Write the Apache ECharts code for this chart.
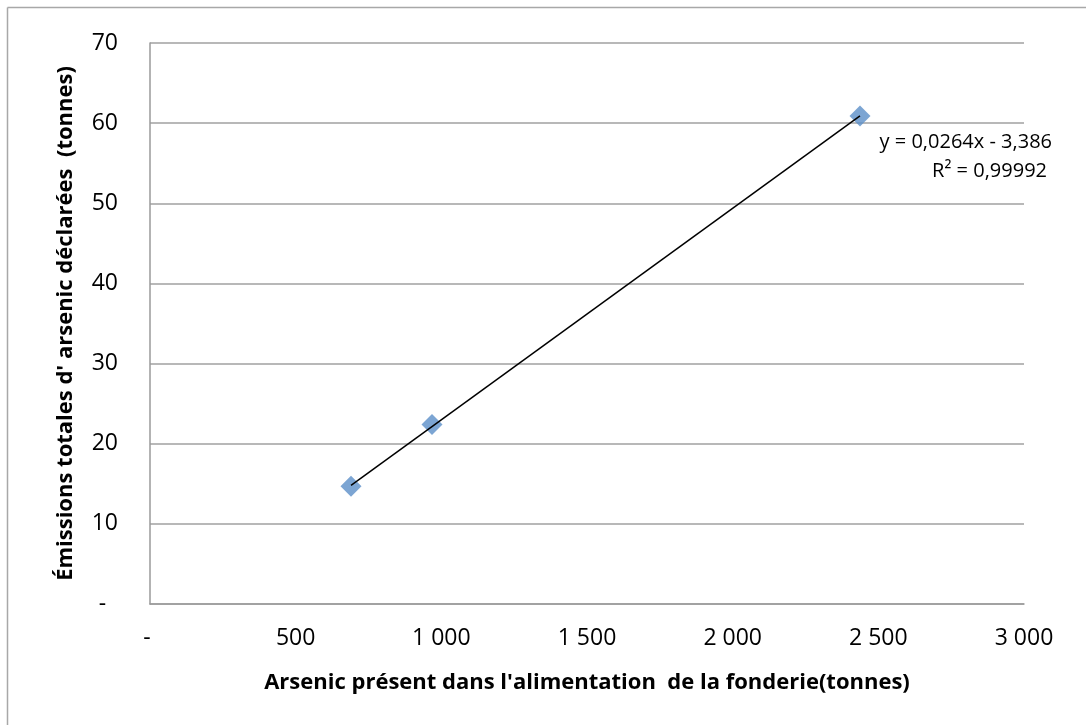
<!DOCTYPE html>
<html>
<head>
<meta charset="utf-8">
<script src="https://cdn.jsdelivr.net/npm/echarts@6/dist/echarts.min.js"></script>
<style>
  html, body { margin: 0; padding: 0; background: #fff; }
  #chart { width: 1086px; height: 725px; }
</style>
</head>
<body>
<div id="chart"></div>
<script>
// points
const feedTonnes = [690, 968, 2437];
const emissionsTonnes = [14.7, 22.4, 60.9];
// trend line ends
const trendX = [690, 2437];
const trendY = [14.8, 60.9];
const equationText = ['y = 0,0264x - 3,386', 'R² = 0,99992'];

const font = '"Open Sans", "Noto Sans", sans-serif';

function fmt(v) {
  return String(v).replace(/\B(?=(\d{3})+(?!\d))/g, ' ');
}

const chart = echarts.init(document.getElementById('chart'));
chart.setOption({
  backgroundColor: '#fff',
  animation: false,
  grid: { left: 150, right: 62, top: 43, bottom: 121 },
  xAxis: {
    type: 'value',
    min: 0, max: 3000, interval: 500,
    name: "Arsenic présent dans l'alimentation  de la fonderie(tonnes)",
    nameLocation: 'middle',
    nameGap: 68,
    nameTextStyle: { fontFamily: font, fontSize: 22, fontWeight: 'bold', color: '#000' },
    axisLine: { show: true, lineStyle: { color: '#9a9a9a', width: 1.5 } },
    axisTick: { show: false },
    splitLine: { show: false },
    axisLabel: { formatter: v => v === 0 ? '- ' : fmt(v), fontFamily: font, fontSize: 23, color: '#000', margin: 23 }
  },
  yAxis: {
    type: 'value',
    min: 0, max: 70, interval: 10,
    name: "Émissions totales d' arsenic déclarées  (tonnes)",
    nameLocation: 'middle',
    nameGap: 73,
    nameTextStyle: { fontFamily: font, fontSize: 22, fontWeight: 'bold', color: '#000' },
    axisLine: { show: true, lineStyle: { color: '#9a9a9a', width: 1.5 } },
    axisTick: { show: false },
    splitLine: { show: true, lineStyle: { color: '#a0a0a0', width: 1.5 } },
    axisLabel: { formatter: v => v === 0 ? '-  ' : fmt(v), fontFamily: font, fontSize: 23, color: '#000', margin: 32 }
  },
  series: [
    {
      type: 'scatter',
      data: feedTonnes.map((x, i) => [x, emissionsTonnes[i]]),
      symbol: 'diamond',
      symbolSize: 21,
      itemStyle: { color: '#5b8fc8' },
      z: 2
    },
    {
      type: 'line',
      data: trendX.map((x, i) => [x, trendY[i]]),
      showSymbol: false,
      lineStyle: { color: '#000', width: 1.5 },
      z: 3
    }
  ],
  graphic: [
    { type: 'line', shape: { x1: 7.5, y1: 7.5, x2: 1086, y2: 7.5 }, style: { stroke: '#a8a8a8', lineWidth: 1.5 } },
    { type: 'line', shape: { x1: 7.5, y1: 7.5, x2: 7.5, y2: 725 }, style: { stroke: '#a8a8a8', lineWidth: 1.5 } },
    {
      type: 'text', right: 34, top: 132,
      style: { text: equationText[0], fontFamily: font, fontSize: 20, fill: '#000', textAlign: 'right' }
    },
    {
      type: 'text', right: 39, top: 161,
      style: { text: equationText[1], fontFamily: font, fontSize: 20, fill: '#000', textAlign: 'right' }
    }
  ]
});
</script>
</body>
</html>
